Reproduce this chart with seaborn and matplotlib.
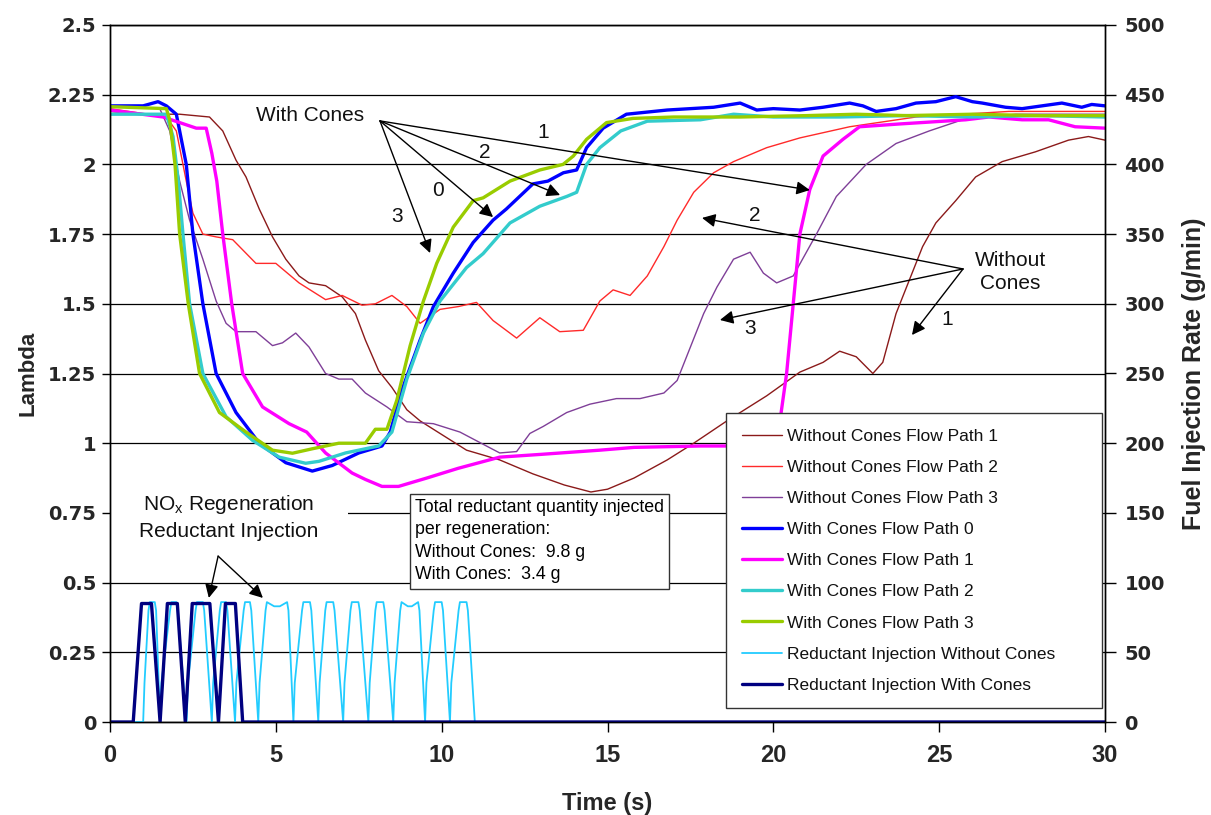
import numpy as np
import pandas as pd
import matplotlib
matplotlib.use("Agg")
import matplotlib.pyplot as plt
from matplotlib.patches import Rectangle
import seaborn as sns

# ---------------- data ----------------
time_woc1 = [0, 1.0, 2.1, 3.0, 3.4, 3.8, 4.1, 4.5, 4.9, 5.3, 5.7, 6.0, 6.5, 7.0, 7.4, 7.7, 8.1, 8.5,
             8.95, 9.35, 9.95, 10.75, 11.75, 12.75, 13.7, 14.5, 15.0, 15.8, 16.8, 17.6, 18.6, 19.8,
             20.8, 21.5, 22.0, 22.5, 23.0, 23.3, 23.7, 24.1, 24.5, 24.9, 25.5, 26.1, 26.9, 27.9,
             28.9, 29.5, 30]
lam_woc1 = [2.19, 2.18, 2.18, 2.17, 2.12, 2.015, 1.955, 1.84, 1.74, 1.66, 1.6, 1.575, 1.565, 1.525,
            1.465, 1.37, 1.26, 1.2, 1.12, 1.08, 1.035, 0.975, 0.94, 0.89, 0.85, 0.825, 0.835, 0.875,
            0.94, 1.0, 1.08, 1.17, 1.255, 1.29, 1.33, 1.31, 1.25, 1.29, 1.465, 1.585, 1.705, 1.79,
            1.87, 1.955, 2.01, 2.045, 2.087, 2.1, 2.087]

time_woc2 = [0, 1.7, 2.0, 2.3, 2.5, 2.8, 3.2, 3.7, 4.4, 5.0, 5.7, 6.5, 7.0, 7.6, 8.0, 8.5, 8.95,
             9.35, 9.95, 10.5, 11.05, 11.55, 12.26, 12.96, 13.56, 14.27, 14.77, 15.17, 15.68, 16.2,
             16.7, 17.1, 17.6, 18.2, 18.8, 19.8, 20.8, 22.3, 24.3, 27.1, 30]
lam_woc2 = [2.2, 2.17, 2.12, 1.94, 1.825, 1.75, 1.74, 1.73, 1.645, 1.645, 1.575, 1.515, 1.53, 1.495,
            1.5, 1.53, 1.49, 1.43, 1.48, 1.49, 1.505, 1.44, 1.377, 1.45, 1.40, 1.405, 1.51, 1.55,
            1.53, 1.6, 1.705, 1.8, 1.9, 1.97, 2.01, 2.06, 2.095, 2.135, 2.17, 2.19, 2.19]

time_woc3 = [0, 1.5, 1.8, 2.1, 2.4, 2.8, 3.2, 3.5, 3.8, 4.4, 4.9, 5.2, 5.6, 6.0, 6.5, 6.9, 7.3, 7.7,
             8.35, 8.95, 9.75, 10.55, 11.75, 12.26, 12.66, 13.06, 13.77, 14.47, 15.27, 15.98, 16.7,
             17.1, 17.5, 17.9, 18.3, 18.8, 19.3, 19.7, 20.1, 20.6, 21.3, 21.9, 22.8, 23.7, 24.7,
             25.7, 27.3, 30]
lam_woc3 = [2.21, 2.2, 2.12, 1.94, 1.8, 1.66, 1.51, 1.43, 1.40, 1.40, 1.35, 1.36, 1.395, 1.345, 1.25,
            1.23, 1.23, 1.18, 1.13, 1.077, 1.07, 1.04, 0.965, 0.97, 1.035, 1.06, 1.11, 1.14, 1.16,
            1.16, 1.18, 1.225, 1.345, 1.465, 1.56, 1.66, 1.685, 1.61, 1.575, 1.6, 1.75, 1.885, 2.0,
            2.075, 2.12, 2.16, 2.18, 2.18]

time_wc0 = [0, 1.0, 1.45, 1.7, 2.0, 2.3, 2.5, 2.8, 3.2, 3.8, 4.5, 5.3, 6.1, 6.7, 7.5, 8.2, 8.45, 8.8,
            9.35, 9.75, 10.35, 10.95, 11.55, 11.95, 12.75, 13.2, 13.67, 14.07, 14.37, 14.87, 15.57,
            16.8, 17.5, 18.2, 19.0, 19.5, 20.0, 20.8, 21.5, 22.3, 22.7, 23.1, 23.7, 24.3, 24.9, 25.5,
            26.0, 26.3, 27.0, 27.5, 28.1, 28.7, 29.3, 29.6, 30]
lam_wc0 = [2.21, 2.21, 2.225, 2.21, 2.18, 2.0, 1.75, 1.5, 1.25, 1.11, 1.0, 0.93, 0.90, 0.92, 0.965,
           0.99, 1.04, 1.19, 1.37, 1.49, 1.61, 1.72, 1.80, 1.84, 1.93, 1.94, 1.97, 1.98, 2.06, 2.13,
           2.18, 2.195, 2.2, 2.205, 2.22, 2.195, 2.2, 2.195, 2.205, 2.22, 2.21, 2.19, 2.2, 2.22,
           2.225, 2.243, 2.225, 2.22, 2.205, 2.2, 2.21, 2.22, 2.205, 2.215, 2.21]

time_wc1 = [0, 1.6, 2.1, 2.6, 2.9, 3.07, 3.22, 3.4, 3.67, 4.0, 4.6, 5.4, 5.93, 6.5, 7.3, 7.7, 8.2, 8.7,
            9.55, 10.5, 11.75, 13.0, 14.77, 15.8, 17.8, 18.8, 19.95, 20.2, 20.4, 20.6, 20.8, 21.1,
            21.5, 22.1, 22.6, 23.8, 25.8, 26.5, 27.5, 28.3, 29.1, 30]
lam_wc1 = [2.195, 2.17, 2.15, 2.13, 2.13, 2.04, 1.94, 1.75, 1.5, 1.25, 1.13, 1.07, 1.04, 0.965, 0.893,
           0.87, 0.845, 0.845, 0.875, 0.91, 0.95, 0.96, 0.975, 0.985, 0.99, 0.99, 0.995, 1.08, 1.25,
           1.5, 1.75, 1.91, 2.03, 2.09, 2.135, 2.145, 2.16, 2.17, 2.16, 2.16, 2.135, 2.13]

time_wc2 = [0, 1.7, 1.9, 2.06, 2.2, 2.4, 2.8, 3.5, 4.3, 5.1, 5.9, 6.3, 7.1, 8.1, 8.5, 8.95, 9.45,
            9.95, 10.75, 11.25, 12.06, 12.96, 13.77, 14.07, 14.37, 14.77, 15.4, 16.2, 17.8, 18.8,
            20, 22, 24, 26, 28, 30]
lam_wc2 = [2.18, 2.18, 2.1, 1.94, 1.75, 1.5, 1.25, 1.095, 1.01, 0.95, 0.928, 0.935, 0.965, 0.99,
           1.04, 1.23, 1.395, 1.51, 1.63, 1.68, 1.79, 1.85, 1.885, 1.9, 2.0, 2.06, 2.12, 2.155,
           2.16, 2.18, 2.17, 2.17, 2.175, 2.17, 2.175, 2.17]

time_wc3 = [0, 1.7, 1.8, 1.96, 2.1, 2.36, 2.7, 3.3, 4.1, 4.9, 5.5, 6.1, 6.9, 7.7, 8.0, 8.35, 8.65,
            9.05, 9.45, 9.85, 10.35, 10.95, 11.25, 12.06, 12.96, 13.66, 13.97, 14.37, 14.97, 15.77,
            17.0, 19.0, 21.0, 22.5, 24.0, 26.0, 28.0, 30]
lam_wc3 = [2.207, 2.2, 2.16, 2.0, 1.75, 1.5, 1.25, 1.11, 1.04, 0.975, 0.964, 0.98, 1.0, 1.0, 1.05,
           1.05, 1.155, 1.35, 1.51, 1.645, 1.775, 1.87, 1.88, 1.94, 1.98, 2.0, 2.03, 2.09, 2.15,
           2.165, 2.17, 2.17, 2.175, 2.18, 2.175, 2.18, 2.175, 2.175]

# reductant injection (g/min, right axis)
time_inj_woc = [0, 1.0, 1.04, 1.16, 1.2, 1.35, 1.39, 1.51,
                1.55, 1.81, 1.85, 2.0, 2.04, 2.31,
                2.35, 2.58, 2.62, 2.8, 2.84, 3.07,
                3.11, 3.31, 3.35, 3.5, 3.54, 3.77,
                3.81, 4.03, 4.07, 4.22, 4.26, 4.47,
                4.51, 4.69, 4.73, 4.95, 5.12, 5.34, 5.38, 5.53,
                5.57, 5.79, 5.83, 6.03, 6.07, 6.28,
                6.32, 6.49, 6.53, 6.73, 6.77, 7.03,
                7.07, 7.25, 7.29, 7.49, 7.53, 7.79,
                7.83, 8.0, 8.04, 8.24, 8.28, 8.54,
                8.58, 8.75, 8.79, 8.98, 9.1, 9.29, 9.33, 9.5,
                9.54, 9.76, 9.8, 10.0, 10.04, 10.25,
                10.29, 10.51, 10.55, 10.75, 10.79, 11.0, 30]
rate_inj_woc = [0, 0, 28, 80, 86, 86, 80, 0,
                28, 80, 86, 86, 80, 0,
                28, 80, 86, 86, 80, 0,
                28, 80, 86, 86, 80, 0,
                28, 80, 86, 86, 80, 0,
                28, 80, 86, 83, 83, 86, 80, 0,
                28, 80, 86, 86, 80, 0,
                28, 80, 86, 86, 80, 0,
                28, 80, 86, 86, 80, 0,
                28, 80, 86, 86, 80, 0,
                28, 80, 86, 83, 83, 86, 80, 0,
                28, 80, 86, 86, 80, 0,
                28, 80, 86, 86, 80, 0, 0]

time_inj_wc = [0, 0.70, 0.95, 1.25, 1.51, 1.73, 2.03, 2.27, 2.48, 3.01, 3.27, 3.48, 3.78, 4.0, 30]
rate_inj_wc = [0, 0, 85, 85, 0, 85, 85, 0, 85, 85, 0, 85, 85, 0, 0]

y_ticks = [0, 0.25, 0.5, 0.75, 1, 1.25, 1.5, 1.75, 2, 2.25, 2.5]
y_ticklabels = ["0", "0.25", "0.5", "0.75", "1", "1.25", "1.5", "1.75", "2", "2.25", "2.5"]
y2_ticks = [0, 50, 100, 150, 200, 250, 300, 350, 400, 450, 500]
x_ticks = [0, 5, 10, 15, 20, 25, 30]

# ---------------- style ----------------
sns.set_style("white")
plt.rcParams["font.family"] = ["Liberation Sans", "DejaVu Sans"]

fig = plt.figure(figsize=(12.11, 8.15), dpi=100)
ax = fig.add_axes([110 / 1211, 1 - 722 / 815, 995 / 1211, 697 / 815])
ax2 = ax.twinx()

lambda_series = [
    ("Without Cones Flow Path 1", time_woc1, lam_woc1, "#8B1A1A", 1.0),
    ("Without Cones Flow Path 2", time_woc2, lam_woc2, "#FF2A2A", 1.0),
    ("Without Cones Flow Path 3", time_woc3, lam_woc3, "#7F3F98", 1.0),
    ("With Cones Flow Path 0", time_wc0, lam_wc0, "#0000FF", 2.4),
    ("With Cones Flow Path 1", time_wc1, lam_wc1, "#FF00FF", 2.4),
    ("With Cones Flow Path 2", time_wc2, lam_wc2, "#33CCCC", 2.4),
    ("With Cones Flow Path 3", time_wc3, lam_wc3, "#99CC00", 2.4),
]
for name, t, v, c, lw in lambda_series:
    sns.lineplot(x=t, y=v, ax=ax, color=c, linewidth=lw, label=name,
                 estimator=None, sort=False)

inj_series = [
    ("Reductant Injection Without Cones", time_inj_woc, rate_inj_woc, "#22CCFF", 1.3),
    ("Reductant Injection With Cones", time_inj_wc, rate_inj_wc, "#000080", 2.4),
]
for name, t, v, c, lw in inj_series:
    sns.lineplot(x=t, y=v, ax=ax2, color=c, linewidth=lw, label=name,
                 estimator=None, sort=False)

for a in (ax, ax2):
    if a.get_legend() is not None:
        a.get_legend().remove()

# axes ranges / ticks
ax.set_xlim(0, 30)
ax.set_ylim(0, 2.5)
ax2.set_ylim(0, 500)
ax.set_yticks(y_ticks)
ax.set_yticklabels(y_ticklabels)
ax2.set_yticks(y2_ticks)
ax.set_xticks(x_ticks)
ax.yaxis.grid(True, color="black", linewidth=0.9)
ax.xaxis.grid(False)
ax.set_axisbelow(True)

# white label background of the NOx note hides this part of the 0.75 gridline
ax.add_patch(Rectangle((0.03, 0.735), 7.15, 0.03, facecolor="white", edgecolor="none", zorder=0.8))

for s in ["left", "right", "bottom", "top"]:
    ax.spines[s].set_color("black")
    ax.spines[s].set_linewidth(1.0)
    ax2.spines[s].set_color("black")
    ax2.spines[s].set_linewidth(1.0)

ax.tick_params(axis="y", which="major", direction="out", length=6, width=1, color="black",
               left=True, pad=4)
ax.tick_params(axis="x", which="major", direction="out", length=7, width=1, color="black",
               bottom=True, pad=9)
ax2.tick_params(axis="y", which="major", direction="out", length=8, width=1, color="black",
                right=True, pad=6)
for lbl in ax.get_yticklabels() + ax2.get_yticklabels():
    lbl.set_fontfamily(["DejaVu Sans"])
    lbl.set_fontweight("bold")
    lbl.set_fontsize(14)
for lbl in ax.get_xticklabels():
    lbl.set_fontfamily(["Liberation Sans Narrow", "Liberation Sans", "DejaVu Sans"])
    lbl.set_fontweight("bold")
    lbl.set_fontsize(17)

ax.set_xlabel("Time (s)", fontsize=17, fontweight="bold",
              fontfamily=["Liberation Sans Narrow", "Liberation Sans", "DejaVu Sans"], labelpad=18)
ax.set_ylabel("Lambda", fontsize=16, fontweight="bold", labelpad=7)
ax2.set_ylabel("Fuel Injection Rate (g/min)", fontsize=18, fontweight="bold", labelpad=12)

# ---------------- annotations ----------------
arrow_kw = dict(arrowstyle="-|>", color="black", lw=1.0, mutation_scale=20,
                shrinkA=0, shrinkB=0)
txt_kw = dict(fontsize=15, color="#111111", ha="center", va="center")

# With Cones
ax2.text(6.03, 2.177, "With Cones", transform=ax.transData, **txt_kw)
src = (8.14, 2.156)
for head, lab, lpos in [((21.1, 1.908), "1", (13.05, 2.116)),
                        ((13.57, 1.89), "2", (11.3, 2.044)),
                        ((11.55, 1.811), "0", (9.89, 1.908)),
                        ((9.65, 1.682), "3", (8.65, 1.813))]:
    ax2.annotate("", xy=head, xytext=src, xycoords=ax.transData, textcoords=ax.transData,
                 arrowprops=arrow_kw)
    ax2.text(lpos[0], lpos[1], lab, transform=ax.transData, **txt_kw)

# Without Cones
ax2.text(27.15, 1.614, "Without\nCones", transform=ax.transData, linespacing=1.25, **txt_kw)
src = (25.72, 1.625)
for head, lab, lpos in [((24.18, 1.388), "1", (25.23, 1.442)),
                        ((17.85, 1.808), "2", (19.45, 1.818)),
                        ((18.39, 1.442), "3", (19.29, 1.413))]:
    ax2.annotate("", xy=head, xytext=src, xycoords=ax.transData, textcoords=ax.transData,
                 arrowprops=arrow_kw)
    ax2.text(lpos[0], lpos[1], lab, transform=ax.transData, **txt_kw)

# NOx regeneration label
ax2.text(3.59, 0.735, "NO$_\\mathregular{x}$ Regeneration\nReductant Injection",
         transform=ax.transData, fontsize=15, color="#111111", ha="center", va="center",
         linespacing=1.35)
src = (3.26, 0.595)
for head in [(2.98, 0.445), (4.61, 0.445)]:
    ax2.annotate("", xy=head, xytext=src, xycoords=ax.transData, textcoords=ax.transData,
                 arrowprops=arrow_kw)

# Total reductant box
ax2.text(9.2, 0.8,
         "Total reductant quantity injected\nper regeneration:\nWithout Cones:  9.8 g\nWith Cones:  3.4 g",
         transform=ax.transData, fontsize=12.8, color="black", ha="left", va="top",
         linespacing=1.42,
         bbox=dict(boxstyle="square,pad=0.3", facecolor="white", edgecolor="#333333", linewidth=1.0))

# ---------------- legend ----------------
h1, l1 = ax.get_legend_handles_labels()
h2, l2 = ax2.get_legend_handles_labels()
leg = ax2.legend(h1 + h2, l1 + l2, loc="upper left",
                 bbox_to_anchor=((726 - 110) / 995, (722 - 420) / 697, (1102 - 726) / 995, 0.01),
                 mode="expand", fontsize=12.5, frameon=True, fancybox=False,
                 edgecolor="#333333", framealpha=1, facecolor="white",
                 handlelength=2.3, handletextpad=0.3, labelspacing=0.92, borderpad=0.9,
                 borderaxespad=0)
leg.get_frame().set_linewidth(1.0)
for t in leg.get_texts():
    t.set_color("#111111")

fig.savefig("out.png", dpi=100)
